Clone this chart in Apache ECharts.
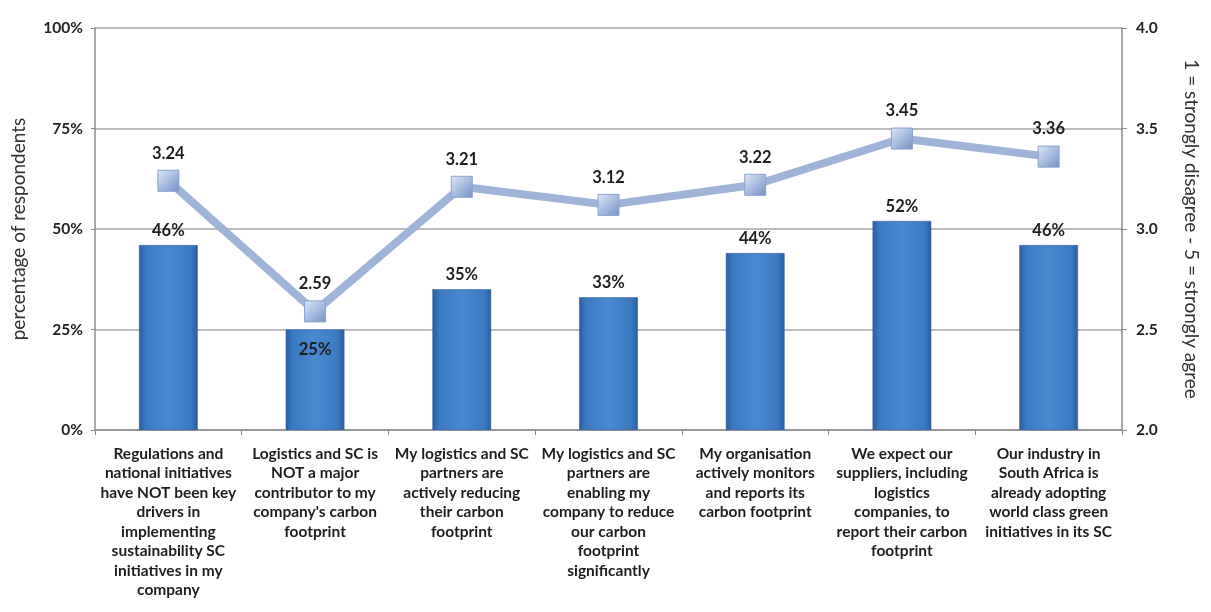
<!DOCTYPE html>
<html><head><meta charset="utf-8">
<script src="https://cdn.jsdelivr.net/npm/echarts@6/dist/echarts.min.js"></script>
<style>html,body{margin:0;padding:0;background:#fff}#c{width:1211px;height:612px}</style>
</head><body><div id="c"></div>
<script>
const categories = [
  "Regulations and\nnational initiatives\nhave NOT been key\ndrivers in\nimplementing\nsustainability SC\ninitiatives in my\ncompany",
  "Logistics and SC is\nNOT a major\ncontributor to my\ncompany's carbon\nfootprint",
  "My logistics and SC\npartners are\nactively reducing\ntheir carbon\nfootprint",
  "My logistics and SC\npartners are\nenabling my\ncompany to reduce\nour carbon\nfootprint\nsignificantly",
  "My organisation\nactively monitors\nand reports its\ncarbon footprint",
  "We expect our\nsuppliers, including\nlogistics\ncompanies, to\nreport their carbon\nfootprint",
  "Our industry in\nSouth Africa is\nalready adopting\nworld class green\ninitiatives in its SC"
];
const percentValues = [46, 25, 35, 33, 44, 52, 46];
const meanScores = [3.24, 2.59, 3.21, 3.12, 3.22, 3.45, 3.36];
const leftTicks = [0, 25, 50, 75, 100];
const rightTicks = [2.0, 2.5, 3.0, 3.5, 4.0];

const FONT = 'Lato, "Open Sans", sans-serif';
const chart = echarts.init(document.getElementById('c'), null, {renderer: 'canvas'});

const barGrad = new echarts.graphic.LinearGradient(0, 0, 1, 0, [
  {offset: 0, color: '#2a5e9f'},
  {offset: 0.12, color: '#3b79c2'},
  {offset: 0.5, color: '#4a88d0'},
  {offset: 0.88, color: '#3b79c2'},
  {offset: 1, color: '#2a5e9f'}
]);
const markerGrad = new echarts.graphic.LinearGradient(0, 0, 1, 1, [
  {offset: 0, color: '#dde6f5'},
  {offset: 0.5, color: '#a8bde2'},
  {offset: 1, color: '#7490c2'}
]);

chart.setOption({
  animation: false,
  backgroundColor: '#fff',
  grid: {left: 95, right: 89, top: 28, bottom: 182},
  xAxis: {
    type: 'category',
    data: categories,
    axisLine: {lineStyle: {color: '#8c8c8c', width: 1.5}},
    axisTick: {show: true, length: 5, lineStyle: {color: '#8c8c8c'}},
    axisLabel: {
      interval: 0, color: '#1e1e1e', fontFamily: FONT, fontWeight: 'bold',
      fontSize: 15.5, lineHeight: 19.5, margin: 14, align: 'center'
    }
  },
  yAxis: [
    {
      type: 'value', min: 0, max: 100, interval: 25,
      name: 'percentage of respondents', nameLocation: 'middle', nameGap: 67, nameRotate: 90,
      nameTextStyle: {color: '#333', fontFamily: FONT, fontSize: 19},
      axisLine: {show: true, lineStyle: {color: '#8c8c8c', width: 1.5}},
      axisTick: {show: true, length: 4, lineStyle: {color: '#8c8c8c'}},
      splitLine: {lineStyle: {color: '#a6a6a6', width: 1.5}},
      axisLabel: {formatter: v => leftTicks.includes(v) ? v + '%' : '', color: '#222', fontFamily: FONT, fontWeight: 'bold', fontSize: 15.5, margin: 12}
    },
    {
      type: 'value', min: 2.0, max: 4.0, interval: 0.5,
      name: '1 = strongly disagree - 5 = strongly agree', nameLocation: 'middle', nameGap: 60, nameRotate: -90,
      nameTextStyle: {color: '#333', fontFamily: FONT, fontSize: 19},
      axisLine: {show: true, lineStyle: {color: '#8c8c8c', width: 1.5}},
      axisTick: {show: true, length: 5, lineStyle: {color: '#8c8c8c'}},
      splitLine: {show: false},
      axisLabel: {formatter: v => rightTicks.some(t => Math.abs(t - v) < 1e-9) ? v.toFixed(1) : '', color: '#222', fontFamily: FONT, fontWeight: 'bold', fontSize: 15.5, margin: 14}
    }
  ],
  series: [
    {
      type: 'bar', yAxisIndex: 0, data: percentValues.map((v, i) => ({
        value: v,
        label: i === 1 ? {position: 'insideTop', distance: 12} : undefined
      })),
      barWidth: '40%',
      itemStyle: {color: barGrad, borderColor: '#2b5c98', borderWidth: 0.5},
      label: {show: true, position: 'top', distance: 6, formatter: '{c}%', color: '#1e1e1e', fontFamily: FONT, fontWeight: 'bold', fontSize: 16.5}
    },
    {
      type: 'line', yAxisIndex: 1, data: meanScores,
      symbol: 'rect', symbolSize: 21,
      lineStyle: {color: '#a0b4d9', width: 8},
      itemStyle: {color: markerGrad, borderColor: '#8aa2cf', borderWidth: 1},
      label: {show: true, position: 'top', distance: 8, formatter: p => p.value.toFixed(2), color: '#1e1e1e', fontFamily: FONT, fontWeight: 'bold', fontSize: 16.5},
      z: 5
    }
  ]
});
</script></body></html>
